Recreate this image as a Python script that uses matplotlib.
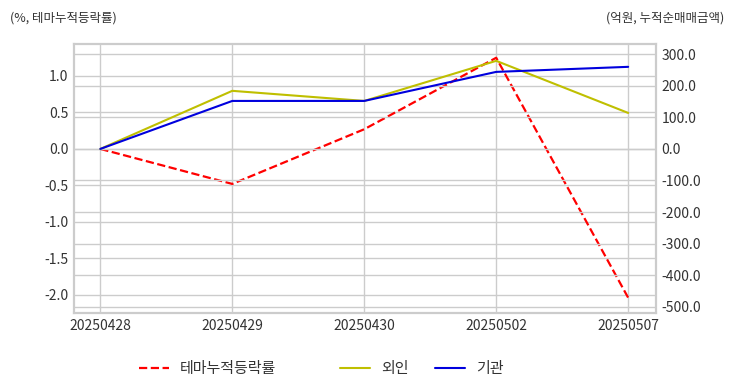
import numpy as np
import matplotlib
matplotlib.use("Agg")
import matplotlib.pyplot as plt
from matplotlib.ticker import FormatStrFormatter, MultipleLocator

plt.style.use("seaborn-v0_8-whitegrid")
plt.rcParams['font.family'] = ['Noto Sans CJK KR', 'DejaVu Sans']
plt.rcParams['axes.unicode_minus'] = False

# data
dates = ['20250428', '20250429', '20250430', '20250502', '20250507']
theme_ret = [0.0, -0.48, 0.27, 1.25, -2.04]      # %, 테마누적등락률
foreign = [0.0, 184.0, 152.0, 279.0, 114.0]     # 억원, 외인
inst = [0.0, 152.0, 152.0, 244.0, 260.0]        # 억원, 기관

fig = plt.figure(figsize=(7.32, 3.92), dpi=100)
ax1 = fig.add_axes([0.101, 0.2015, 0.795, 0.6865])
ax2 = ax1.twinx()

x = np.arange(len(dates))
l1, = ax1.plot(x, theme_ret, color='red', linestyle='--', linewidth=1.6, label='테마누적등락률')
l2, = ax2.plot(x, foreign, color='#bfbf00', linewidth=1.5, label='외인')
l3, = ax2.plot(x, inst, color='#0000dd', linewidth=1.5, label='기관')

ax1.set_xticks(x)
ax1.set_xticklabels(dates)
ax1.set_xlim(-0.2, 4.21)
ax1.set_ylim(-2.25, 1.44)
ax2.set_ylim(-2.25 * 231, 1.44 * 231)

ax1.yaxis.set_major_locator(MultipleLocator(0.5))
ax1.yaxis.set_major_formatter(FormatStrFormatter('%.1f'))
ax2.yaxis.set_major_locator(MultipleLocator(100))
ax2.yaxis.set_major_formatter(FormatStrFormatter('%.1f'))

for ax in (ax1, ax2):
    ax.tick_params(labelsize=10, colors='#333333', length=0, pad=4)
    for s in ax.spines.values():
        s.set_color('#cccccc')
        s.set_linewidth(1.5)
ax2.grid(True, color='#cccccc', linewidth=1)
ax1.grid(True, color='#cccccc', linewidth=1)

fig.text(0.013, 0.955, '(%, 테마누적등락률)', fontsize=9, color='#333333', va='center')
fig.text(0.99, 0.955, '(억원, 누적순매매금액)', fontsize=9, color='#333333', va='center', ha='right')

fig.legend(handles=[l1], loc='center', bbox_to_anchor=(0.283, 0.058), frameon=False,
           fontsize=10.8, handlelength=2.0, handletextpad=0.7, labelcolor='#333333')
fig.legend(handles=[l2, l3], loc='center', bbox_to_anchor=(0.5765, 0.058), frameon=False,
           fontsize=10.8, ncol=2, handlelength=2.0, handletextpad=0.7, columnspacing=1.8,
           labelcolor='#333333')

fig.savefig('out.png', dpi=100)
